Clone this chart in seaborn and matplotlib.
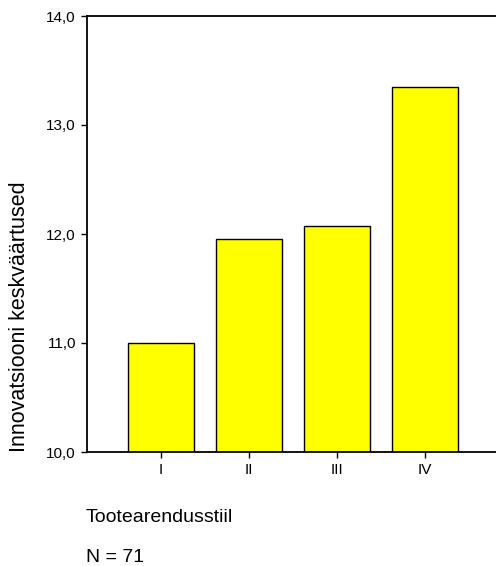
import seaborn as sns
import matplotlib.pyplot as plt
import pandas as pd

# data
styles = ["I", "II", "III", "IV"]
means = [11.0, 11.95, 12.07, 13.35]
y_ticks = [10, 11, 12, 13, 14]
y_ticklabels = ["10,0", "11,0", "12,0", "13,0", "14,0"]

sns.set_theme(style="white")
plt.rcParams['font.family'] = ['Liberation Sans', 'DejaVu Sans']
plt.rcParams['text.color'] = 'black'
plt.rcParams['xtick.color'] = 'black'
plt.rcParams['ytick.color'] = 'black'

df = pd.DataFrame({"stiil": styles, "keskmine": means})

fig = plt.figure(figsize=(4.96, 5.66), dpi=100)
ax = fig.add_axes([87/496, 1 - 452/566, 1 - 87/496, (452 - 16)/566])

# bars start from 10, so plot as offset from the bottom
sns.barplot(data=df, x="stiil", y="keskmine", color="#ffff00", saturation=1,
            width=0.75, edgecolor="black", linewidth=1.0, ax=ax)
for p in ax.patches:
    h = p.get_height()
    p.set_y(10)
    p.set_height(h - 10)

ax.set_ylim(10, 14)
ax.set_xlim(-0.84, 3.81)
ax.set_yticks(y_ticks)
ax.set_yticklabels(y_ticklabels, fontsize=11)
ax.tick_params(axis='x', labelsize=11, length=4, width=1, direction='out', pad=4, bottom=True)
ax.tick_params(axis='y', length=4, width=1, direction='out', pad=4, left=True)

for axis in ['top', 'bottom', 'left']:
    ax.spines[axis].set_linewidth(1.3)
    ax.spines[axis].set_color('black')
ax.spines['right'].set_visible(False)

ax.set(xlabel='', ylabel='')

fig.text(20/496, 1 - 317/566, "Innovatsiooni keskväärtused", rotation=90,
         ha='center', va='center', fontsize=15.5)
fig.text(86/496, 1 - 517/566, "Tootearendusstiil", ha='left', va='center', fontsize=14)
fig.text(86/496, 1 - 557/566, "N = 71", ha='left', va='center', fontsize=14)

plt.savefig('out.png', dpi=100)
